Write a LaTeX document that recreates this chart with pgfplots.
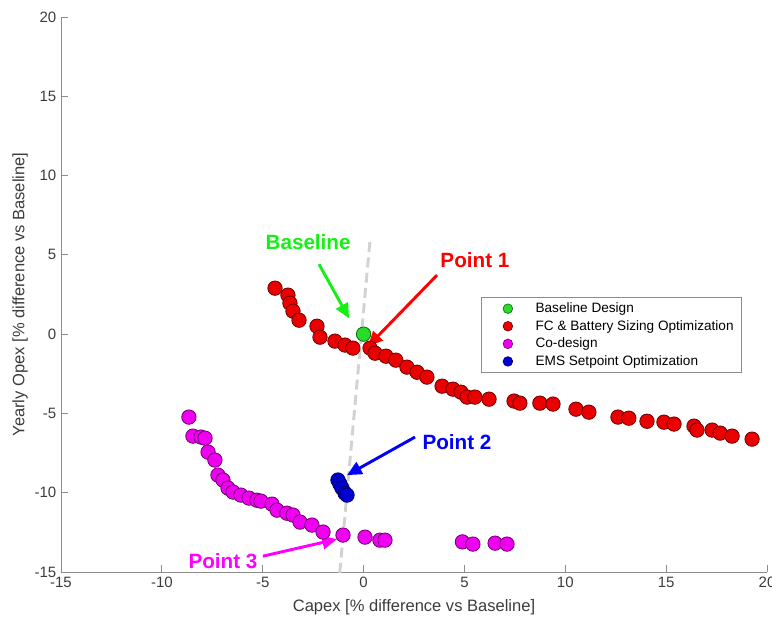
\documentclass[border=0pt]{standalone}
\usepackage{pgfplots}
\pgfplotsset{compat=1.18}
\usepackage{fontspec}
\setmainfont{Liberation Sans}
\usetikzlibrary{arrows.meta}
\definecolor{axgray}{RGB}{140,140,140}
\definecolor{txt}{RGB}{60,60,60}
\definecolor{mgreen}{RGB}{40,220,40}
\definecolor{mred}{RGB}{235,0,0}
\definecolor{mmag}{RGB}{240,0,240}
\definecolor{mblue}{RGB}{0,0,210}
\definecolor{dgray}{RGB}{210,210,210}
\definecolor{agreen}{RGB}{20,240,20}
\definecolor{ared}{RGB}{255,0,0}
\definecolor{ablue}{RGB}{0,0,255}
\definecolor{amag}{RGB}{255,0,255}
\begin{document}
\begin{tikzpicture}
\begin{axis}[
  scale only axis, width=529.5pt, height=416.25pt,
  xmin=-15, xmax=20, ymin=-15, ymax=20,
  xtick={-15,-10,...,20}, ytick={-15,-10,...,20},
  axis x line*=bottom, axis y line*=left,
  axis line style={axgray, line width=0.6pt},
  tick align=inside, major tick length=5pt,
  tick style={axgray, line width=0.6pt},
  /pgf/number format/assume math mode=true,
  ticklabel style={font=\fontsize{11.25}{13}\selectfont, text=txt},
  xlabel={Capex [\% difference vs Baseline]},
  ylabel={Yearly Opex [\% difference vs Baseline]},
  label style={font=\fontsize{12.4}{14}\selectfont, text=txt},
  x label style={at={(axis description cs:0.5,-0.063)}, anchor=center},
  y label style={at={(axis description cs:-0.058,0.5)}, anchor=center, rotate=0},
  clip=false,
  legend style={at={(0.595,0.4955)}, anchor=north west, draw=axgray, line width=0.6pt,
    font=\fontsize{10.2}{12}\selectfont, text=black, inner xsep=4pt, inner ysep=2pt,
    row sep=0.3pt},
  legend cell align=left,
  legend image code/.code={\path (0,0) (34pt,0); \draw[#1] plot coordinates {(15.5pt,0pt)};},
]
\addlegendimage{only marks, mark=*, mark size=3.6pt, mark options={fill=mgreen, draw=mgreen!50!black, line width=0.5pt}}
\addlegendentry{Baseline Design}
\addlegendimage{only marks, mark=*, mark size=3.6pt, mark options={fill=mred, draw=mred!50!black, line width=0.5pt}}
\addlegendentry{FC \& Battery Sizing Optimization}
\addlegendimage{only marks, mark=*, mark size=3.6pt, mark options={fill=mmag, draw=mmag!50!black, line width=0.5pt}}
\addlegendentry{Co-design}
\addlegendimage{only marks, mark=*, mark size=3.6pt, mark options={fill=mblue, draw=mblue!50!black, line width=0.5pt}}
\addlegendentry{EMS Setpoint Optimization}

\addplot[forget plot, only marks, mark=*, mark size=5.4pt, mark options={fill=mred, draw=mred!45!black, line width=0.6pt}] table {
x y
-4.39 2.90
-3.75 2.46
-3.65 1.95
-3.50 1.45
-3.20 0.88
-2.31 0.50
-2.16 -0.19
-1.42 -0.44
-0.92 -0.69
-0.53 -0.88
0.32 -0.88
0.57 -1.20
1.11 -1.39
1.60 -1.64
2.15 -2.08
2.65 -2.40
3.14 -2.71
3.89 -3.28
4.43 -3.47
4.83 -3.66
5.13 -3.97
5.52 -3.97
6.22 -4.10
7.46 -4.22
7.75 -4.35
8.74 -4.35
9.39 -4.41
10.53 -4.73
11.17 -4.92
12.61 -5.23
13.15 -5.30
14.05 -5.49
14.89 -5.55
15.39 -5.67
16.38 -5.80
16.53 -6.05
17.28 -6.05
17.68 -6.24
18.27 -6.43
19.26 -6.62
};
\addplot[forget plot, only marks, mark=*, mark size=5.4pt, mark options={fill=mgreen, draw=mgreen!45!black, line width=0.6pt}] coordinates {(0,0)};
\addplot[forget plot, only marks, mark=*, mark size=5.4pt, mark options={fill=mmag, draw=mmag!45!black, line width=0.6pt}] table {
x y
-8.66 -5.23
-8.46 -6.43
-8.06 -6.49
-7.86 -6.56
-7.71 -7.44
-7.37 -7.94
-7.22 -8.89
-6.97 -9.20
-6.72 -9.71
-6.47 -9.96
-6.08 -10.15
-5.68 -10.34
-5.29 -10.47
-5.09 -10.53
-4.54 -10.72
-4.29 -11.10
-3.80 -11.29
-3.50 -11.41
-3.15 -11.85
-2.56 -12.04
-2.01 -12.48
-1.02 -12.67
0.07 -12.80
0.81 -12.99
1.06 -12.99
4.90 -13.10
5.42 -13.24
6.52 -13.18
7.11 -13.24
};
\addplot[forget plot, only marks, mark=*, mark size=5.4pt, mark options={fill=mblue, draw=mblue!45!black, line width=0.6pt}] table {
x y
-1.27 -9.20
-1.17 -9.46
-1.07 -9.71
-0.92 -10.03
-0.82 -10.15
};
\addplot[forget plot, dgray, line width=2.2pt, dash pattern=on 7.5pt off 4pt] coordinates {(0.31,5.8) (-1.2,-15.3)};

\node[font=\fontsize{15.5}{18}\selectfont\bfseries, text=agreen] at (axis cs:-2.75,5.8) {Baseline};
\draw[agreen, line width=2.2pt, -{Triangle[length=11pt,width=10pt]}] (axis cs:-2.21,4.41) -- (axis cs:-0.72,1.0);
\node[font=\fontsize{15.5}{18}\selectfont\bfseries, text=ared] at (axis cs:5.52,4.67) {Point 1};
\draw[ared, line width=2.2pt, -{Triangle[length=11pt,width=10pt]}] (axis cs:3.64,3.72) -- (axis cs:0.22,-0.76);
\node[font=\fontsize{15.5}{18}\selectfont\bfseries, text=ablue] at (axis cs:4.63,-6.81) {Point 2};
\draw[ablue, line width=2.2pt, -{Triangle[length=11pt,width=10pt]}] (axis cs:2.55,-6.49) -- (axis cs:-0.82,-8.89);
\node[font=\fontsize{15.5}{18}\selectfont\bfseries, text=amag] at (axis cs:-6.97,-14.31) {Point 3};
\draw[amag, line width=2.2pt, -{Triangle[length=11pt,width=10pt]}] (axis cs:-4.99,-14.0) -- (axis cs:-1.32,-12.93);
\end{axis}
\path (current axis.south west) ++(-45.75pt,-35.25pt) coordinate (bbA);
\path (current axis.north east) ++(3.75pt,12.75pt) coordinate (bbB);
\pgfresetboundingbox
\path[use as bounding box] (bbA) rectangle (bbB);
\end{tikzpicture}
\end{document}
